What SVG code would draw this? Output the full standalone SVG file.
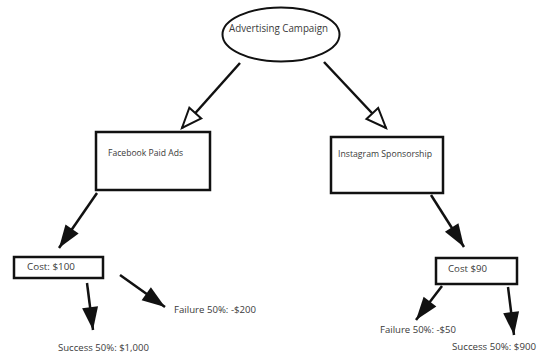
<svg xmlns="http://www.w3.org/2000/svg" width="540" height="360" viewBox="0 0 540 360">
<style>
.box{fill:#fff;stroke:#111;stroke-width:2.5}
.lbl{font-family:"Open Sans","Liberation Sans",sans-serif;fill:#3a3a3a}
.edge{stroke:#111;stroke-width:2.5;fill:none}
</style>
<defs>
<marker id="solid" markerUnits="userSpaceOnUse" markerWidth="26" markerHeight="18" refX="23" refY="8" orient="auto" overflow="visible">
<path d="M0,0 L23,8 L0,16 z" fill="#111"/>
</marker>
<marker id="hollow" markerUnits="userSpaceOnUse" markerWidth="24" markerHeight="18" refX="20" refY="8" orient="auto" overflow="visible">
<path d="M0,0 L20,8 L0,16 z" fill="#fff" stroke="#111" stroke-width="2"/>
</marker>
</defs>
<rect width="540" height="360" fill="#fff"/>
<g id="connectors">
<line class="edge" x1="240" y1="63" x2="182" y2="128" marker-end="url(#hollow)"/>
<line class="edge" x1="324" y1="62" x2="386" y2="128" marker-end="url(#hollow)"/>
<line class="edge" x1="97" y1="193" x2="59" y2="248" marker-end="url(#solid)"/>
<line class="edge" x1="431" y1="195" x2="464" y2="247" marker-end="url(#solid)"/>
<line class="edge" x1="87" y1="283" x2="93" y2="330" marker-end="url(#solid)"/>
<line class="edge" x1="120" y1="275" x2="165" y2="307" marker-end="url(#solid)"/>
<line class="edge" x1="442" y1="286" x2="416" y2="320" marker-end="url(#solid)"/>
<line class="edge" x1="508" y1="287" x2="514" y2="335" marker-end="url(#solid)"/>
</g>
<g id="advertising">
<ellipse cx="281" cy="34.5" rx="58.5" ry="27" fill="#fff" stroke="#111" stroke-width="2"/>
<text class="lbl" x="229" y="32" font-size="10.5" textLength="99" lengthAdjust="spacingAndGlyphs">Advertising Campaign</text>
</g>
<g id="facebook">
<rect class="box" x="96" y="132" width="114" height="58"/>
<text class="lbl" x="108" y="156" font-size="9" textLength="75" lengthAdjust="spacingAndGlyphs">Facebook Paid Ads</text>
</g>
<g id="instagram">
<rect class="box" x="331" y="137" width="112" height="56"/>
<text class="lbl" x="338" y="157" font-size="9" textLength="94" lengthAdjust="spacingAndGlyphs">Instagram Sponsorship</text>
</g>
<g id="cost100">
<rect class="box" x="14" y="257" width="89" height="21"/>
<text class="lbl" x="27" y="270" font-size="9" textLength="48" lengthAdjust="spacingAndGlyphs">Cost: $100</text>
</g>
<g id="cost90">
<rect class="box" x="436" y="258" width="81" height="26"/>
<text class="lbl" x="448" y="272" font-size="9" textLength="39" lengthAdjust="spacingAndGlyphs">Cost $90</text>
</g>
<g id="fb-failure">
<text class="lbl" x="174" y="313" font-size="9" textLength="82" lengthAdjust="spacingAndGlyphs">Failure 50%: -$200</text>
</g>
<g id="fb-success">
<text class="lbl" x="58" y="351" font-size="9" textLength="91" lengthAdjust="spacingAndGlyphs">Success 50%: $1,000</text>
</g>
<g id="ig-failure">
<text class="lbl" x="380" y="333" font-size="9" textLength="76" lengthAdjust="spacingAndGlyphs">Failure 50%: -$50</text>
</g>
<g id="ig-success">
<text class="lbl" x="452" y="350" font-size="9" textLength="84" lengthAdjust="spacingAndGlyphs">Success 50%: $900</text>
</g>
</svg>
